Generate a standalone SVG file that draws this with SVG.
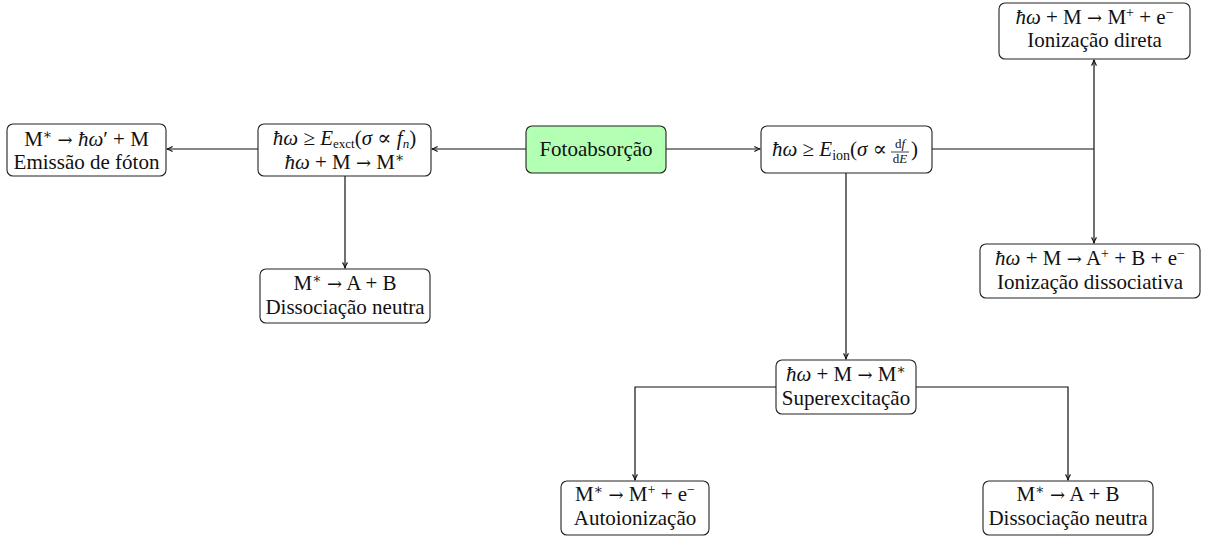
<svg xmlns="http://www.w3.org/2000/svg" width="1221" height="540" viewBox="0 0 1221 540">
<style>
.box{fill:#fff;stroke:#222;stroke-width:1.1}
.green{fill:#b3ffb3}
.t{font-family:"Liberation Serif","DejaVu Serif",serif;font-size:21px;fill:#111;text-anchor:middle}
.l{text-anchor:start}
.i{font-style:italic}
.s{font-size:14px}
.f{font-size:13px}
.ar{font-family:"DejaVu Serif",serif;font-size:18px}
.c{fill:none;stroke:#111;stroke-width:1.2}
</style>
<defs>
<marker id="a" viewBox="0 0 10 10" refX="9" refY="5" markerWidth="7" markerHeight="7" markerUnits="userSpaceOnUse" orient="auto">
<path d="M1,1.5 Q5,4 9.5,5 Q5,6 1,8.5" fill="none" stroke="#111" stroke-width="1.6"/>
</marker>
</defs>
<g id="connectors">
<path class="c" d="M666,149 H760" marker-end="url(#a)"/>
<path class="c" d="M526,149 H432" marker-end="url(#a)"/>
<path class="c" d="M258,149 H167" marker-end="url(#a)"/>
<path class="c" d="M345,176 V268" marker-end="url(#a)"/>
<path class="c" d="M932,149 H1094"/>
<path class="c" d="M1094,149 V60" marker-end="url(#a)"/>
<path class="c" d="M1094,149 V243" marker-end="url(#a)"/>
<path class="c" d="M846,173 V359" marker-end="url(#a)"/>
<path class="c" d="M776,387 H635 V480" marker-end="url(#a)"/>
<path class="c" d="M916,387 H1068 V480" marker-end="url(#a)"/>
</g>
<g id="emissao">
<rect class="box" x="7" y="124" width="159" height="52" rx="6"/>
<text class="t" x="86.5" y="146">M<tspan class="s" dy="-7">∗</tspan><tspan dy="7"> </tspan><tspan class="ar">→</tspan> <tspan class="i">ħω</tspan>′ + M</text>
<text class="t" x="86.5" y="169">Emissão de fóton</text>
</g>
<g id="excitacao">
<rect class="box" x="258" y="124" width="173" height="52" rx="6"/>
<text class="t" x="344.5" y="145"><tspan class="i">ħω</tspan> ≥ <tspan class="i">E</tspan><tspan class="f" dy="3">exct</tspan><tspan dy="-3">(</tspan><tspan class="i">σ</tspan> ∝ <tspan class="i">f</tspan><tspan class="f i" dy="3">n</tspan><tspan dy="-3">)</tspan></text>
<text class="t" x="344.5" y="169"><tspan class="i">ħω</tspan> + M <tspan class="ar">→</tspan> M<tspan class="s" dy="-7">∗</tspan></text>
</g>
<g id="fotoabsorcao">
<rect class="box green" x="526" y="126" width="140" height="47" rx="6"/>
<text class="t" x="596" y="156">Fotoabsorção</text>
</g>
<g id="ionizacao">
<rect class="box" x="761" y="126" width="171" height="47" rx="6"/>
<text class="t l" x="772" y="156"><tspan class="i">ħω</tspan> ≥ <tspan class="i">E</tspan><tspan class="s" dy="4">ion</tspan><tspan dy="-4">(</tspan><tspan class="i">σ</tspan> ∝</text>
<text class="t f" x="900" y="148">d<tspan class="i">f</tspan></text>
<line x1="891" y1="152" x2="909" y2="152" stroke="#111" stroke-width="0.8"/>
<text class="t f" x="900" y="163">d<tspan class="i">E</tspan></text>
<text class="t l" x="911" y="156">)</text>
</g>
<g id="ion-direta">
<rect class="box" x="999" y="3" width="191" height="56" rx="6"/>
<text class="t" x="1094.5" y="24"><tspan class="i">ħω</tspan> + M <tspan class="ar">→</tspan> M<tspan class="s" dy="-7">+</tspan><tspan dy="7"> + e</tspan><tspan class="s" dy="-7">−</tspan></text>
<text class="t" x="1094.5" y="47">Ionização direta</text>
</g>
<g id="ion-dissociativa">
<rect class="box" x="980" y="244" width="220" height="54" rx="6"/>
<text class="t" x="1090" y="265"><tspan class="i">ħω</tspan> + M <tspan class="ar">→</tspan> A<tspan class="s" dy="-7">+</tspan><tspan dy="7"> + B + e</tspan><tspan class="s" dy="-7">−</tspan></text>
<text class="t" x="1090" y="289">Ionização dissociativa</text>
</g>
<g id="dissociacao-1">
<rect class="box" x="260" y="269" width="170" height="54" rx="6"/>
<text class="t" x="345" y="290">M<tspan class="s" dy="-7">∗</tspan><tspan dy="7"> </tspan><tspan class="ar">→</tspan> A + B</text>
<text class="t" x="345" y="314">Dissociação neutra</text>
</g>
<g id="superexcitacao">
<rect class="box" x="776" y="360" width="140" height="54" rx="6"/>
<text class="t" x="846" y="381"><tspan class="i">ħω</tspan> + M <tspan class="ar">→</tspan> M<tspan class="s" dy="-7">∗</tspan></text>
<text class="t" x="846" y="405">Superexcitação</text>
</g>
<g id="autoionizacao">
<rect class="box" x="561" y="481" width="148" height="54" rx="6"/>
<text class="t" x="635" y="501">M<tspan class="s" dy="-7">∗</tspan><tspan dy="7"> </tspan><tspan class="ar">→</tspan> M<tspan class="s" dy="-7">+</tspan><tspan dy="7"> + e</tspan><tspan class="s" dy="-7">−</tspan></text>
<text class="t" x="635" y="525">Autoionização</text>
</g>
<g id="dissociacao-2">
<rect class="box" x="983" y="481" width="170" height="54" rx="6"/>
<text class="t" x="1068" y="501">M<tspan class="s" dy="-7">∗</tspan><tspan dy="7"> </tspan><tspan class="ar">→</tspan> A + B</text>
<text class="t" x="1068" y="525">Dissociação neutra</text>
</g>
</svg>
